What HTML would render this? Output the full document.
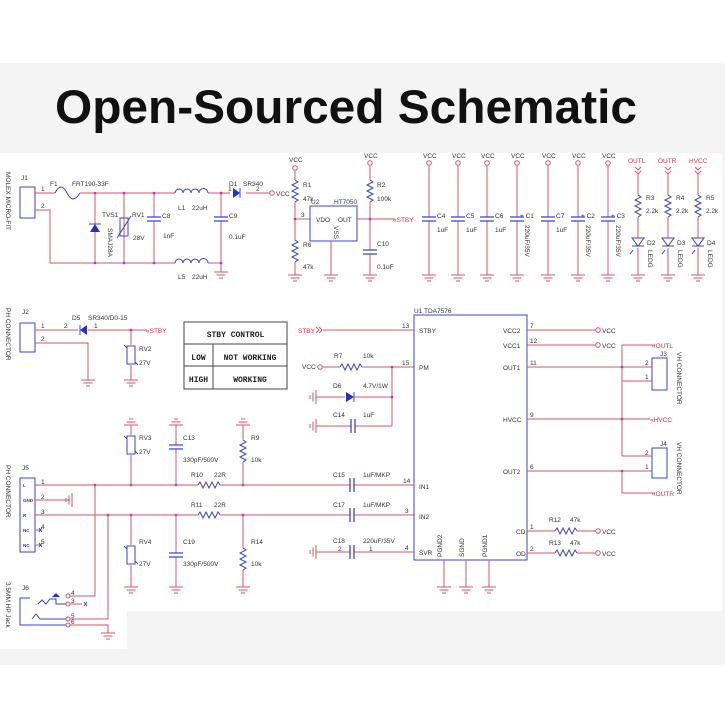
<!DOCTYPE html>
<html><head><meta charset="utf-8"><style>
html,body{margin:0;padding:0;background:#fff;width:725px;height:725px;overflow:hidden}
svg{display:block}
.w{stroke:#cc5a6a;stroke-width:1;fill:none}
.b{stroke:#3a44c8;stroke-width:1;fill:none}
.t{font-family:"Liberation Sans",sans-serif;font-size:6.5px;fill:#333}
.r{font-family:"Liberation Sans",sans-serif;font-size:6.5px;fill:#e03040}
.m{font-family:"Liberation Mono",monospace;font-size:8px;font-weight:bold;fill:#222}
.j{fill:#e020c0}
</style></head><body>
<svg width="725" height="725" viewBox="0 0 725 725" xmlns="http://www.w3.org/2000/svg">
<defs>
<g id="gnd"><path d="M-7 0H7M-4.5 3H4.5M-2 6H2" stroke="#cc5a6a" fill="none"/></g>
<g id="gndL"><path d="M0 -7V7M-3 -4.5V4.5M-6 -2V2" stroke="#cc5a6a" fill="none"/></g>
<g id="resV"><path d="M0 0l3 2l-6 3l6 3l-6 3l6 3l-6 3l6 3l-3 2" stroke="#3a44c8" fill="none"/></g>
<g id="resH"><path d="M0 0l2 -3l3 6l3 -6l3 6l3 -6l3 6l3 -6l2 3" stroke="#3a44c8" fill="none"/></g>
<g id="capV"><path d="M-7 -2H7M-7 2H7" stroke="#3a44c8" stroke-width="1.3" fill="none"/></g>
<g id="capH"><path d="M-2 -7V7M2 -7V7" stroke="#3a44c8" stroke-width="1.3" fill="none"/></g>
<g id="vcc"><circle r="2.3" fill="#fff" stroke="#cc5a6a"/></g>
</defs>
<rect x="0" y="0" width="725" height="725" fill="#fff"/>
<rect x="0" y="63" width="725" height="602" fill="#f4f4f4"/>
<rect x="0" y="153" width="722" height="458" fill="#fff"/>
<rect x="0" y="611" width="127" height="38" fill="#fff"/>
<text x="55" y="123" font-family="Liberation Sans,sans-serif" font-weight="bold" font-size="47" textLength="582" lengthAdjust="spacingAndGlyphs" fill="#111">Open-Sourced Schematic</text>

<!-- ===== J1 power input ===== -->
<rect x="20" y="187" width="15" height="31" class="b"/>
<text class="t" x="21" y="180">J1</text>
<text class="t" transform="translate(6,172) rotate(90)" font-size="5.5">MOLEX MICRO-FIT</text>
<text class="t" x="41" y="191">1</text><text class="t" x="41" y="208">2</text>
<path class="w" d="M35 193H55M80 193H175M208 193H230M246 193H270"/>
<path class="b" d="M55 193c4 -8 8 -8 12 0c4 8 8 8 13 0"/>
<text class="t" x="50" y="186">F1</text><text class="t" x="72" y="186">FRT190-33F</text>
<path class="w" d="M35 210H50V263H175M208 263H221"/>
<path class="b" d="M175 193a4 4 0 0 1 8 0a4 4 0 0 1 8 0a4 4 0 0 1 8 0a4 4 0 0 1 9 0M175 263a4 4 0 0 1 8 0a4 4 0 0 1 8 0a4 4 0 0 1 8 0a4 4 0 0 1 9 0"/>
<text class="t" x="178" y="210">L1</text><text class="t" x="192" y="210">22uH</text>
<text class="t" x="178" y="279">L5</text><text class="t" x="192" y="279">22uH</text>
<path class="w" d="M95 193V263M124 193V263M154 193V217M154 221V263M221 193V217M221 221V272"/>
<use href="#capV" x="154" y="219"/><use href="#capV" x="221" y="219"/>
<use href="#gnd" x="221" y="272"/>
<path d="M90 232H100L95 224Z" fill="#2030d0"/><path class="b" d="M89 224H101"/>
<rect x="120" y="218" width="8" height="18" fill="#fff" class="b"/><path class="b" d="M117 238L131 216"/>
<text class="t" x="102" y="217">TVS1</text><text class="t" x="132" y="217">RV1</text>
<text class="t" x="133" y="240">28V</text><text class="t" transform="translate(108,228) rotate(90)" font-size="5.5">SMAJ28A</text>
<text class="t" x="162" y="218">C8</text><text class="t" x="163" y="238">1nF</text>
<text class="t" x="229" y="218">C9</text><text class="t" x="229" y="239">0.1uF</text>
<g class="j"><circle cx="95" cy="193" r="1.3"/><circle cx="124" cy="193" r="1.3"/><circle cx="154" cy="193" r="1.3"/><circle cx="221" cy="193" r="1.3"/><circle cx="95" cy="263" r="1.3"/><circle cx="124" cy="263" r="1.3"/><circle cx="154" cy="263" r="1.3"/><circle cx="221" cy="263" r="1.3"/></g>
<path d="M233 188V198L240 193Z" fill="#2030d0"/><path class="b" d="M240 188V198"/>
<text class="t" x="229" y="186">D1</text><text class="t" x="243" y="186">SR340</text>
<text class="t" x="228" y="191">1</text><text class="t" x="256" y="191">2</text>
<use href="#vcc" x="272" y="193"/><text class="t" x="276" y="196">VCC</text>

<!-- R1/R6/U2 -->
<use href="#vcc" x="295" y="168"/><text class="t" x="289" y="162">VCC</text>
<path class="w" d="M295 171V180M295 202V240M295 262V275M295 219H310"/>
<use href="#resV" x="295" y="180"/><use href="#resV" x="295" y="240"/>
<use href="#gnd" x="295" y="275"/>
<circle class="j" cx="295" cy="219" r="1.3"/>
<text class="t" x="303" y="187">R1</text><text class="t" x="303" y="201">47k</text>
<text class="t" x="303" y="247">R6</text><text class="t" x="303" y="269">47k</text>
<text class="t" x="301" y="217">3</text>
<rect x="310" y="206" width="47" height="35" class="b"/>
<text class="t" x="311" y="204">U2</text><text class="t" x="334" y="204">HT7050</text>
<text class="t" x="316" y="222">VDO</text><text class="t" x="338" y="222">OUT</text>
<text class="t" transform="translate(334,226) rotate(90)" font-size="5.5">VSS</text>
<path class="w" d="M331 241V275M357 219H395"/><use href="#gnd" x="331" y="275"/>

<!-- R2/C10 -->
<use href="#vcc" x="370" y="163"/><text class="t" x="364" y="158">VCC</text>
<path class="w" d="M370 166V180M370 202V250M370 254V275"/>
<use href="#resV" x="370" y="180"/><use href="#capV" x="370" y="252"/><use href="#gnd" x="370" y="275"/>
<circle class="j" cx="370" cy="219" r="1.3"/>
<text class="t" x="377" y="187">R2</text><text class="t" x="377" y="201">100k</text>
<text class="t" x="377" y="246">C10</text><text class="t" x="377" y="269">0.1uF</text>
<text class="r" x="393" y="222">«STBY</text>

<!-- caps row -->
<g>
<use href="#vcc" x="429" y="163"/><use href="#vcc" x="458" y="163"/><use href="#vcc" x="487" y="163"/><use href="#vcc" x="517" y="163"/><use href="#vcc" x="548" y="163"/><use href="#vcc" x="578" y="163"/><use href="#vcc" x="608" y="163"/>
<path class="w" d="M429 166V217M429 221V275M458 166V217M458 221V275M487 166V217M487 221V275M517 166V217M517 221V275M548 166V217M548 221V275M578 166V217M578 221V275M608 166V217M608 221V275"/>
<use href="#capV" x="429" y="219"/><use href="#capV" x="458" y="219"/><use href="#capV" x="487" y="219"/><use href="#capV" x="517" y="219"/><use href="#capV" x="548" y="219"/><use href="#capV" x="578" y="219"/><use href="#capV" x="608" y="219"/>
<use href="#gnd" x="429" y="275"/><use href="#gnd" x="458" y="275"/><use href="#gnd" x="487" y="275"/><use href="#gnd" x="517" y="275"/><use href="#gnd" x="548" y="275"/><use href="#gnd" x="578" y="275"/><use href="#gnd" x="608" y="275"/>
<text class="t" x="423" y="158">VCC</text><text class="t" x="452" y="158">VCC</text><text class="t" x="481" y="158">VCC</text><text class="t" x="511" y="158">VCC</text><text class="t" x="542" y="158">VCC</text><text class="t" x="572" y="158">VCC</text><text class="t" x="602" y="158">VCC</text>
<text class="t" x="437" y="218">C4</text><text class="t" x="437" y="232">1uF</text>
<text class="t" x="466" y="218">C5</text><text class="t" x="466" y="232">1uF</text>
<text class="t" x="495" y="218">C6</text><text class="t" x="495" y="232">1uF</text>
<text class="t" x="520" y="218">+ C1</text><text class="t" transform="translate(525,225) rotate(90)" font-size="5.5">220uF/35V</text>
<text class="t" x="556" y="218">C7</text><text class="t" x="556" y="232">1uF</text>
<text class="t" x="581" y="218">+ C2</text><text class="t" transform="translate(586,225) rotate(90)" font-size="5.5">220uF/35V</text>
<text class="t" x="611" y="218">+ C3</text><text class="t" transform="translate(616,225) rotate(90)" font-size="5.5">220uF/35V</text>
</g>
<!-- LEDs -->
<g>
<text class="r" x="628" y="163">OUTL</text><text class="r" x="658" y="163">OUTR</text><text class="r" x="689" y="163">HVCC</text>
<path class="w" d="M635 167l3 3l3 -3M635 171l3 3l3 -3M665 167l3 3l3 -3M665 171l3 3l3 -3M695 167l3 3l3 -3M695 171l3 3l3 -3"/>
<path class="w" d="M638 174V195M638 217V238M638 248V275M668 174V195M668 217V238M668 248V275M698 174V195M698 217V238M698 248V275"/>
<use href="#resV" x="638" y="195"/><use href="#resV" x="668" y="195"/><use href="#resV" x="698" y="195"/>
<path class="b" d="M632 238H644L638 246ZM632 246H644M662 238H674L668 246ZM662 246H674M692 238H704L698 246ZM692 246H704"/>
<path class="b" d="M633 250l-3 4M665 250l-3 4M695 250l-3 4"/>
<use href="#gnd" x="638" y="275"/><use href="#gnd" x="668" y="275"/><use href="#gnd" x="698" y="275"/>
<text class="t" x="646" y="200">R3</text><text class="t" x="646" y="213">2.2k</text>
<text class="t" x="676" y="200">R4</text><text class="t" x="676" y="213">2.2k</text>
<text class="t" x="706" y="200">R5</text><text class="t" x="706" y="213">2.2k</text>
<text class="t" x="647" y="245">D2</text><text class="t" x="677" y="245">D3</text><text class="t" x="707" y="245">D4</text>
<text class="t" transform="translate(648,250) rotate(90)" font-size="5.5">LEDG</text>
<text class="t" transform="translate(678,250) rotate(90)" font-size="5.5">LEDG</text>
<text class="t" transform="translate(708,250) rotate(90)" font-size="5.5">LEDG</text>
</g>

<!-- J2 -->
<rect x="20" y="323" width="15" height="29" class="b"/>
<text class="t" x="22" y="314">J2</text>
<text class="t" transform="translate(6,308) rotate(90)" font-size="5.5">PH CONNECTOR</text>
<path class="w" d="M35 330H78M88 330H147M35 343H88V380M131 330V345M131 365V380"/>
<path d="M87 325V335L80 330Z" fill="#2030d0"/><path class="b" d="M80 325V335"/>
<text class="t" x="41" y="328">1</text><text class="t" x="41" y="341">2</text><text class="t" x="64" y="328">2</text><text class="t" x="94" y="328">1</text>
<text class="t" x="72" y="320">D5</text><text class="t" x="88" y="320">SR340/D0-15</text>
<circle class="j" cx="131" cy="330" r="1.3"/>
<text class="r" x="146" y="333">«STBY</text>
<rect x="127" y="346" width="8" height="18" fill="#fff" class="b"/><path class="b" d="M124 345l3 3M135 362l3 3"/>
<text class="t" x="139" y="351">RV2</text><text class="t" x="139" y="365">27V</text>
<use href="#gnd" x="88" y="380"/><use href="#gnd" x="131" y="380"/>

<!-- table -->
<rect x="184" y="322" width="103" height="67" fill="#fff" stroke="#444"/>
<path d="M184 344H287M184 366H287M213 344V389" stroke="#444" fill="none"/>
<text class="m" x="235.5" y="337" text-anchor="middle">STBY CONTROL</text>
<text class="m" x="198.5" y="360" text-anchor="middle">LOW</text>
<text class="m" x="250" y="360" text-anchor="middle">NOT WORKING</text>
<text class="m" x="198.5" y="382" text-anchor="middle">HIGH</text>
<text class="m" x="250" y="382" text-anchor="middle">WORKING</text>

<!-- J5 inputs -->
<rect x="20" y="478" width="15" height="74" class="b"/>
<text class="t" x="22" y="470">J5</text>
<text class="t" transform="translate(6,465) rotate(90)" font-size="5.5">PH CONNECTOR</text>
<g fill="#2030d0" font-family="Liberation Sans,sans-serif" font-size="4.5" font-weight="bold"><text x="23" y="487">L</text><text x="23" y="502">GND</text><text x="23" y="517">R</text><text x="23" y="532">NC</text><text x="23" y="547">NC</text></g>
<text class="t" x="41" y="484">1</text><text class="t" x="41" y="499">2</text><text class="t" x="41" y="514">3</text><text class="t" x="41" y="529">4</text><text class="t" x="41" y="544">5</text>
<path class="w" d="M35 485H198M220 485H350M354 485H414M35 500H70M35 515H198M220 515H350M354 515H414M35 530H40M35 545H40"/>
<use href="#gndL" x="72" y="500"/>
<path class="b" d="M39 528l3 4M42 528l-3 4M39 543l3 4M42 543l-3 4"/>
<use href="#resH" x="198" y="485"/><use href="#resH" x="198" y="515"/>
<text class="t" x="191" y="477">R10</text><text class="t" x="214" y="477">22R</text>
<text class="t" x="191" y="507">R11</text><text class="t" x="214" y="507">22R</text>
<path class="w" d="M131 425V435M131 455V485M176 425V445M176 449V485M243 425V440M243 462V485M131 515V545M131 565V587M176 515V553M176 557V587M243 515V548M243 570V587"/>
<g transform="translate(131,425) scale(1,-1)"><use href="#gnd"/></g>
<g transform="translate(176,425) scale(1,-1)"><use href="#gnd"/></g>
<g transform="translate(243,425) scale(1,-1)"><use href="#gnd"/></g>
<rect x="127" y="436" width="8" height="18" fill="#fff" class="b"/><path class="b" d="M124 436l3 3M135 451l3 3"/>
<rect x="127" y="546" width="8" height="18" fill="#fff" class="b"/><path class="b" d="M124 546l3 3M135 561l3 3"/>
<use href="#capV" x="176" y="447"/><use href="#capV" x="176" y="555"/>
<use href="#resV" x="243" y="440"/><use href="#resV" x="243" y="548"/>
<use href="#gnd" x="131" y="587"/><use href="#gnd" x="176" y="587"/><use href="#gnd" x="243" y="587"/>
<text class="t" x="139" y="440">RV3</text><text class="t" x="139" y="454">27V</text>
<text class="t" x="183" y="440">C13</text><text class="t" x="183" y="462">330pF/500V</text>
<text class="t" x="251" y="440">R9</text><text class="t" x="251" y="462">10k</text>
<text class="t" x="139" y="544">RV4</text><text class="t" x="139" y="566">27V</text>
<text class="t" x="183" y="544">C19</text><text class="t" x="183" y="566">330pF/500V</text>
<text class="t" x="251" y="544">R14</text><text class="t" x="251" y="566">10k</text>
<g class="j"><circle cx="95" cy="485" r="1.3"/><circle cx="131" cy="485" r="1.3"/><circle cx="176" cy="485" r="1.3"/><circle cx="243" cy="485" r="1.3"/><circle cx="108" cy="515" r="1.3"/><circle cx="131" cy="515" r="1.3"/><circle cx="176" cy="515" r="1.3"/><circle cx="243" cy="515" r="1.3"/></g>

<!-- J6 -->
<text class="t" x="22" y="590">J6</text>
<text class="t" transform="translate(6,582) rotate(90)" font-size="5">3.5MM HP Jack</text>
<path class="b" d="M30 598H20V625H66M38 604l4 -4l4 4l4 -5H56V604H66M32 619l4 -5l4 5H66"/>
<path d="M52 597L56 593L60 597Z" fill="#2030d0"/>
<g fill="#fff" stroke="#cc5a6a"><circle cx="68" cy="596" r="2"/><circle cx="68" cy="604" r="2"/><circle cx="68" cy="619" r="2"/><circle cx="68" cy="625" r="2"/></g>
<path class="w" d="M70 596H95V485M70 604H82M70 619H108V515M70 625H108V633"/>
<path class="b" d="M84 602l3 4M87 602l-3 4"/>
<text class="t" x="71" y="595">4</text><text class="t" x="71" y="603">3</text><text class="t" x="71" y="618">5</text><text class="t" x="71" y="624">6</text>
<use href="#gnd" x="108" y="633"/>

<!-- U1 -->
<rect x="414" y="315" width="113" height="245" class="b"/>
<text class="t" x="414" y="313">U1 TDA7576</text>
<text class="r" x="298" y="333">STBY</text><path class="w" d="M316 327l3 3l-3 3M319 327l3 3l-3 3"/>
<path class="w" d="M323 330H414"/>
<text class="t" x="402" y="328">13</text><text class="t" x="419" y="333">STBY</text>
<use href="#vcc" x="320" y="367"/><text class="t" x="302" y="369">VCC</text>
<path class="w" d="M323 367H340M362 367H414M392 367V426M316 397H345M355 397H392M316 426H351M355 426H392"/>
<use href="#resH" x="340" y="367"/>
<text class="t" x="334" y="358">R7</text><text class="t" x="363" y="358">10k</text>
<text class="t" x="402" y="365">15</text><text class="t" x="419" y="370">PM</text>
<circle class="j" cx="392" cy="367" r="1.3"/><circle class="j" cx="392" cy="397" r="1.3"/>
<use href="#gndL" x="316" y="397"/><use href="#gndL" x="316" y="426"/><use href="#gndL" x="316" y="552"/>
<path d="M346 392V402L354 397Z" fill="#2030d0"/><path class="b" d="M354 392V402"/>
<text class="t" x="333" y="388">D6</text><text class="t" x="363" y="388">4.7V/1W</text>
<use href="#capH" x="353" y="426"/>
<text class="t" x="333" y="417">C14</text><text class="t" x="363" y="417">1uF</text>
<use href="#capH" x="352" y="485"/><use href="#capH" x="352" y="515"/>
<text class="t" x="333" y="477">C15</text><text class="t" x="363" y="477">1uF/MKP</text>
<text class="t" x="333" y="507">C17</text><text class="t" x="363" y="507">1uF/MKP</text>
<text class="t" x="403" y="483">14</text><text class="t" x="419" y="489">IN1</text>
<text class="t" x="405" y="513">3</text><text class="t" x="419" y="519">IN2</text>
<path class="w" d="M316 552H350M354 552H414"/><use href="#capH" x="352" y="552"/>
<text class="t" x="333" y="543">C18</text><text class="t" x="363" y="543">220uF/35V</text>
<text class="t" x="338" y="551">2</text><text class="t" x="369" y="551">1</text>
<text class="t" x="405" y="550">4</text><text class="t" x="419" y="555">SVR</text>
<path class="w" d="M444 560V587M466 560V587M489 560V587"/>
<use href="#gnd" x="444" y="587"/><use href="#gnd" x="466" y="587"/><use href="#gnd" x="489" y="587"/>
<text class="t" transform="translate(442,557) rotate(-90)" font-size="5.5">PGND2</text>
<text class="t" transform="translate(464,557) rotate(-90)" font-size="5.5">SGND</text>
<text class="t" transform="translate(487,557) rotate(-90)" font-size="5.5">PGND1</text>
<!-- right side -->
<path class="w" d="M527 330H596M527 345H596M527 367H652M527 419H650M527 471H652M527 531H555M577 531H596M527 553H555M577 553H596"/>
<use href="#resH" x="555" y="531"/><use href="#resH" x="555" y="553"/>
<use href="#vcc" x="598" y="330"/><use href="#vcc" x="598" y="345"/><use href="#vcc" x="598" y="531"/><use href="#vcc" x="598" y="553"/>
<text class="t" x="602" y="333">VCC</text><text class="t" x="602" y="348">VCC</text><text class="t" x="602" y="534">VCC</text><text class="t" x="602" y="556">VCC</text>
<text class="t" x="503" y="333">VCC2</text><text class="t" x="530" y="328">7</text>
<text class="t" x="503" y="348">VCC1</text><text class="t" x="530" y="343">12</text>
<text class="t" x="503" y="370">OUT1</text><text class="t" x="530" y="365">11</text>
<text class="t" x="503" y="422">HVCC</text><text class="t" x="530" y="417">9</text>
<text class="t" x="503" y="474">OUT2</text><text class="t" x="530" y="469">6</text>
<text class="t" x="516" y="534">CD</text><text class="t" x="530" y="529">1</text>
<text class="t" x="516" y="556">OD</text><text class="t" x="530" y="551">2</text>
<text class="t" x="549" y="522">R12</text><text class="t" x="570" y="522">47k</text>
<text class="t" x="549" y="545">R13</text><text class="t" x="570" y="545">47k</text>
<path class="w" d="M655 345H622V456H652M652 381H622M622 471V493H655"/>
<rect x="652" y="358" width="15" height="32" class="b"/>
<rect x="652" y="448" width="15" height="30" class="b"/>
<text class="t" x="645" y="365">2</text><text class="t" x="645" y="379">1</text>
<text class="t" x="645" y="455">2</text><text class="t" x="645" y="469">1</text>
<text class="t" x="660" y="356">J3</text><text class="t" x="660" y="446">J4</text>
<text class="t" transform="translate(677,352) rotate(90)" font-size="5.5">VH CONNECTOR</text>
<text class="t" transform="translate(677,442) rotate(90)" font-size="5.5">VH CONNECTOR</text>
<g class="j"><circle cx="622" cy="367" r="1.3"/><circle cx="622" cy="419" r="1.3"/><circle cx="622" cy="471" r="1.3"/></g>
<text class="r" x="652" y="348">«OUTL</text>
<text class="r" x="650" y="422">«HVCC</text>
<text class="r" x="652" y="496">«OUTR</text>
</svg>
</body></html>
